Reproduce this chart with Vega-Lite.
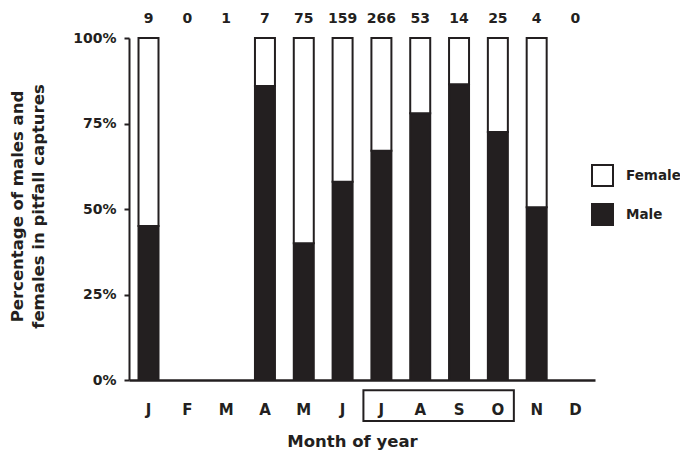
{
  "$schema": "https://vega.github.io/schema/vega-lite/v6.json",
  "width": 466,
  "height": 342,
  "autosize": {"type": "none"},
  "padding": {"left": 129, "top": 38, "right": 85, "bottom": 75},
  "background": "white",
  "config": {
    "font": "DejaVu Sans",
    "view": {"stroke": null},
    "axis": {"domainColor": "#231f20", "tickColor": "#231f20", "labelColor": "#231f20", "titleColor": "#231f20", "grid": false}
  },
  "datasets": {
    "pct": [
      {"month": "Jan", "sex": "Male", "pct": 45},
      {"month": "Jan", "sex": "Female", "pct": 55},
      {"month": "Apr", "sex": "Male", "pct": 86},
      {"month": "Apr", "sex": "Female", "pct": 14},
      {"month": "May", "sex": "Male", "pct": 40},
      {"month": "May", "sex": "Female", "pct": 60},
      {"month": "Jun", "sex": "Male", "pct": 58},
      {"month": "Jun", "sex": "Female", "pct": 42},
      {"month": "Jul", "sex": "Male", "pct": 67},
      {"month": "Jul", "sex": "Female", "pct": 33},
      {"month": "Aug", "sex": "Male", "pct": 78},
      {"month": "Aug", "sex": "Female", "pct": 22},
      {"month": "Sep", "sex": "Male", "pct": 86.5},
      {"month": "Sep", "sex": "Female", "pct": 13.5},
      {"month": "Oct", "sex": "Male", "pct": 72.5},
      {"month": "Oct", "sex": "Female", "pct": 27.5},
      {"month": "Nov", "sex": "Male", "pct": 50.5},
      {"month": "Nov", "sex": "Female", "pct": 49.5}
    ],
    "counts": [
      {"month": "Jan", "n": 9},
      {"month": "Feb", "n": 0},
      {"month": "Mar", "n": 1},
      {"month": "Apr", "n": 7},
      {"month": "May", "n": 75},
      {"month": "Jun", "n": 159},
      {"month": "Jul", "n": 266},
      {"month": "Aug", "n": 53},
      {"month": "Sep", "n": 14},
      {"month": "Oct", "n": 25},
      {"month": "Nov", "n": 4},
      {"month": "Dec", "n": 0}
    ],
    "box": [
      {"from": "Jul", "to": "Oct"}
    ]
  },
  "layer": [
    {
      "data": {"name": "pct"},
      "mark": {"type": "bar", "stroke": "#231f20", "strokeWidth": 2},
      "encoding": {
        "x": {
          "field": "month", "type": "ordinal",
          "scale": {"domain": ["Jan","Feb","Mar","Apr","May","Jun","Jul","Aug","Sep","Oct","Nov","Dec"], "paddingInner": 0.485, "paddingOuter": 0.245},
          "axis": {
            "labelExpr": "substring(datum.label, 0, 1)",
            "ticks": false, "domainWidth": 2.5, "labelAngle": 0,
            "labelFontSize": 15, "labelFontWeight": "bold", "labelPadding": 22,
            "title": "Month of year", "titleFontSize": 16.5, "titleFontWeight": "bold", "titlePadding": 16,
            "titleX": 223, "titleAlign": "center", "titleAnchor": null
          }
        },
        "y": {
          "field": "pct", "type": "quantitative", "stack": "zero",
          "scale": {"domain": [0, 100], "nice": false},
          "axis": {
            "values": [0, 25, 50, 75, 100],
            "labelExpr": "datum.value + '%'",
            "domainWidth": 2, "tickWidth": 2, "tickSize": 5,
            "labelFontSize": 14, "labelFontWeight": "bold", "labelPadding": 8,
            "title": ["Percentage of males and", "females in pitfall captures"],
            "titleFontSize": 16.5, "titleFontWeight": "bold", "titleLineHeight": 21,
            "titleAngle": -90, "titleX": -120, "titleY": 168, "titleBaseline": "top", "titleAlign": "center"
          }
        },
        "fill": {
          "field": "sex", "type": "nominal",
          "scale": {"domain": ["Female", "Male"], "range": ["white", "#231f20"]},
          "legend": {
            "orient": "none", "legendX": 462, "legendY": 126, "title": null,
            "symbolType": "square", "symbolSize": 441, "symbolStrokeColor": "#231f20", "symbolStrokeWidth": 2,
            "labelFontSize": 13.5, "labelFontWeight": "bold", "labelColor": "#231f20",
            "rowPadding": 10, "labelOffset": 12, "padding": 0
          }
        },
        "order": {"field": "sex", "sort": "descending"}
      }
    },
    {
      "data": {"name": "counts"},
      "mark": {"type": "text", "fontSize": 14, "fontWeight": "bold", "color": "#231f20", "baseline": "middle"},
      "encoding": {
        "x": {"field": "month", "type": "ordinal"},
        "y": {"datum": 105.5},
        "text": {"field": "n", "type": "quantitative"}
      }
    },
    {
      "data": {"name": "box"},
      "mark": {"type": "rect", "filled": false, "fill": null, "stroke": "#231f20", "strokeWidth": 2},
      "encoding": {
        "x": {"field": "from", "type": "ordinal", "bandPosition": -0.4},
        "x2": {"field": "to", "bandPosition": 1.3},
        "y": {"datum": -3},
        "y2": {"datum": -12}
      }
    }
  ]
}
